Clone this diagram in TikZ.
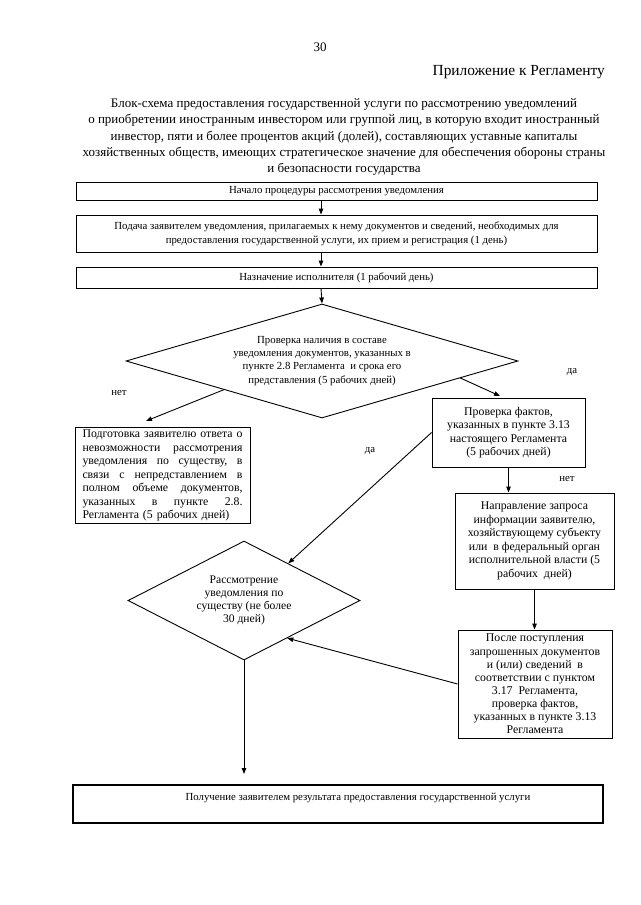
\documentclass[tikz,border=0pt]{standalone}
\usepackage{fontspec}
\setmainfont{Liberation Serif}
\usetikzlibrary{shapes.geometric,arrows.meta}
\begin{document}
\begin{tikzpicture}[x=1pt,y=-1pt,
  box/.style={draw, line width=0.9pt, inner sep=2pt, align=center, font=\fontsize{10.8}{14}\selectfont},
  sbox/.style={box, font=\fontsize{11.8}{13.5}\selectfont},
  dia/.style={draw, diamond, line width=0.9pt, inner sep=0pt, align=center},
  arr/.style={line width=0.9pt, -{Triangle[length=6pt,width=4.5pt]}},
  lbl/.style={font=\fontsize{10.8}{12}\selectfont, inner sep=0pt}
]
\useasboundingbox (0,0) rectangle (640,905);
\fill[white] (0,0) rectangle (640,905);

\node[font=\fontsize{13}{15}\selectfont] (pg) at (320,47) {30};
\node[font=\fontsize{15.4}{17}\selectfont, anchor=east, inner sep=0pt] (app) at (605,72.5) {Приложение к Регламенту};
\node[font=\fontsize{13}{16.3}\selectfont, align=center] (ttl) at (344,137) {Блок-схема предоставления государственной услуги по рассмотрению уведомлений\\о приобретении иностранным инвестором или группой лиц, в которую входит иностранный\\инвестор, пяти и более процентов акций (долей), составляющих уставные капиталы\\хозяйственных обществ, имеющих стратегическое значение для обеспечения обороны страны\\и безопасности государства};

\node[box, minimum width=521, minimum height=18] (b1) at (336.5,191) {Начало процедуры рассмотрения уведомления};
\node[box, minimum width=521, minimum height=37] (b2) at (336.5,233.5) {Подача заявителем уведомления, прилагаемых к нему документов и сведений, необходимых для\\предоставления государственной услуги, их прием и регистрация (1 день)};
\node[box, minimum width=521, minimum height=21] (b3) at (336.5,277.5) {Назначение исполнителя (1 рабочий день)};
\coordinate (ax) at (321,0);

\node[dia, shape aspect=3.4386, minimum width=392, minimum height=114, font=\fontsize{10.8}{13.2}\selectfont] (d1) at (322,361) {Проверка наличия в составе\\уведомления документов, указанных в\\пункте 2.8 Регламента\ \ и срока его\\представления (5 рабочих дней)};

\node[sbox, minimum width=175, minimum height=96, text width=160, align=left] (lb) at (162.5,475.5) {\makebox[160pt][s]{Подготовка\hfill заявителю\hfill ответа\hfill о}\\\makebox[160pt][s]{невозможности\hfill рассмотрения}\\\makebox[160pt][s]{уведомления\hfill по\hfill существу,\hfill в}\\\makebox[160pt][s]{связи\hfill с\hfill непредставлением\hfill в}\\\makebox[160pt][s]{полном\hfill объеме\hfill документов,}\\\makebox[160pt][s]{указанных\hfill в\hfill пункте\hfill 2.8.}\\Регламента (5 рабочих дней)};

\node[sbox, minimum width=153, minimum height=69] (r1) at (508.5,432.5) {Проверка фактов,\\указанных в пункте 3.13\\настоящего Регламента\\(5 рабочих дней)};
\node[sbox, minimum width=159, minimum height=96] (r2) at (534.5,541) {Направление запроса\\информации заявителю,\\хозяйствующему субъекту\\или\ \ в федеральный орган\\исполнительной власти (5\\рабочих\ \ дней)};
\node[sbox, minimum width=154, minimum height=108, font=\fontsize{11.8}{13.1}\selectfont] (r3) at (535,684) {После поступления\\запрошенных документов\\и (или) сведений\ \ в\\соответствии с пунктом\\3.17\ \ Регламента,\\проверка фактов,\\указанных в пункте 3.13\\Регламента};

\node[dia, shape aspect=1.95, minimum width=232, minimum height=119, font=\fontsize{11.6}{13.2}\selectfont] (d2) at (244,600.5) {Рассмотрение\\уведомления по\\существу (не более\\30 дней)};

\node[draw, line width=1.2pt, minimum width=530, minimum height=38, inner sep=0pt,
  label={[lbl, anchor=north, xshift=20pt, yshift=-8pt]north:Получение заявителем результата предоставления государственной услуги}] (fin) at (338,804) {};

% connectors
\draw[arr] (b1.south -| ax) -- (b2.north -| ax);
\draw[arr] (b2.south -| ax) -- (b3.north -| ax);
\draw[arr] (b3.south -| ax) -- (d1.north);

\coordinate (lbt) at (146,421);
\draw[arr] (d1.south west) -- (lbt);
\node[lbl] (no1) at (119,393) {нет};

\coordinate (r1t) at (500,396);
\draw[arr] (d1.-7.6) -- (r1t);
\node[lbl] (yes1) at (572,372) {да};

\draw[arr] (r1.west) -- (d2.40);
\node[lbl] (yes2) at (370,451) {да};

\draw[arr] (r1.south) -- (r1.south |- r2.north);
\node[lbl] (no2) at (567,479) {нет};

\draw[arr] (r2.south) -- (r2.south |- r3.north);
\draw[arr] (r3.west) -- (d2.-41);

\coordinate (fint) at (244,774);
\draw[arr] (d2.south) -- (fint);
\end{tikzpicture}
\end{document}
